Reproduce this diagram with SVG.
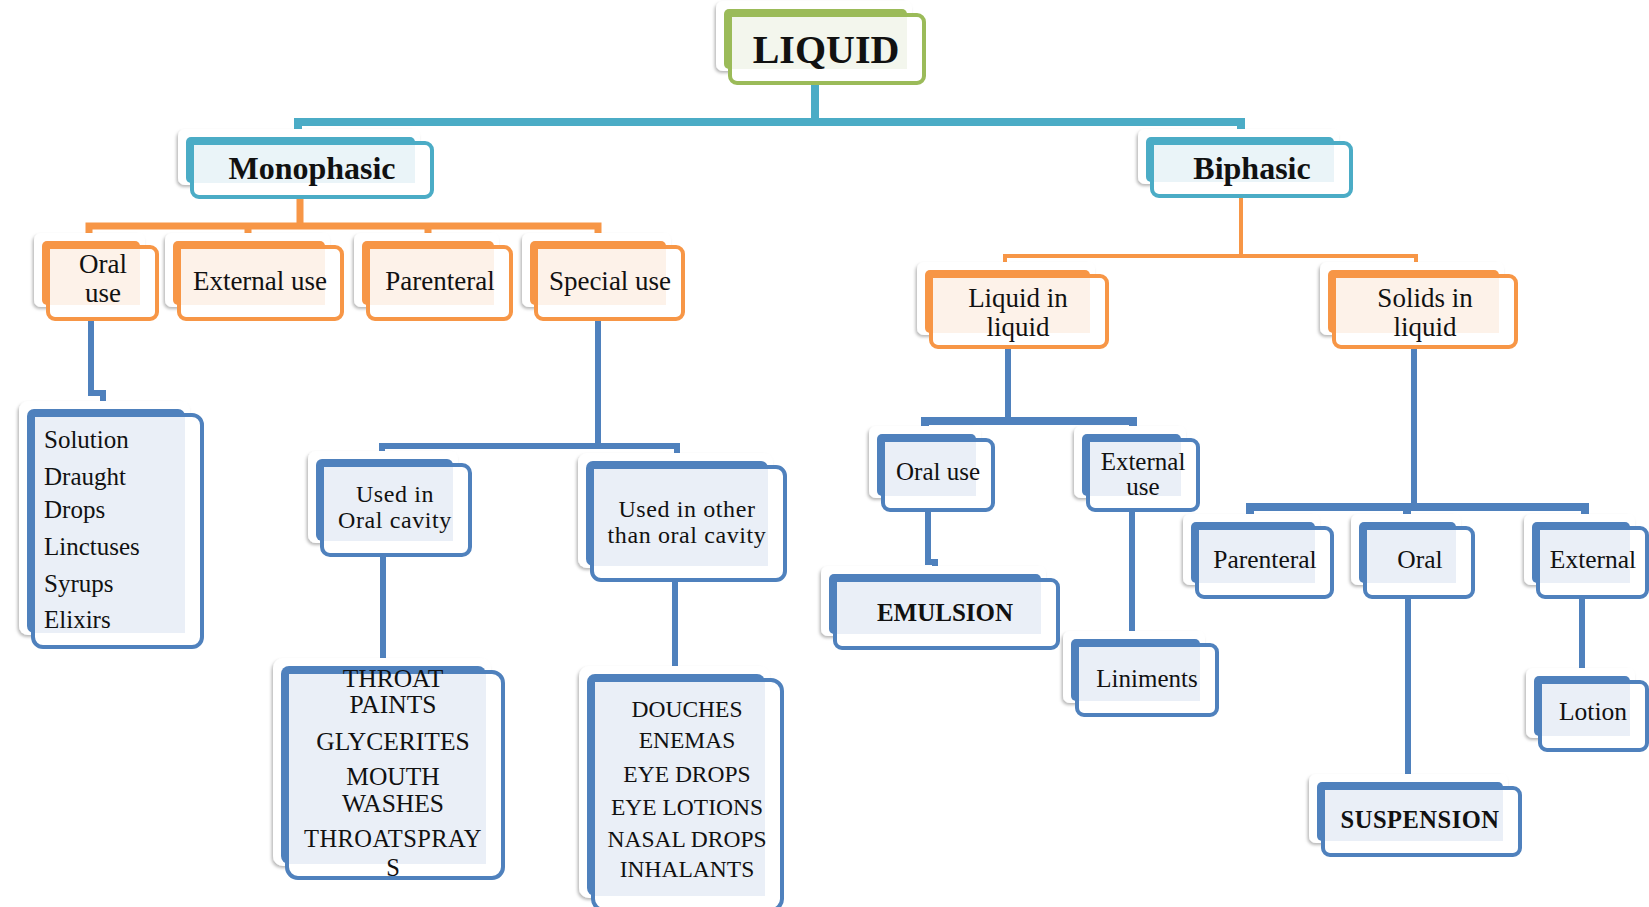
<svg xmlns="http://www.w3.org/2000/svg" width="1649" height="907" viewBox="0 0 1649 907">
<defs>
<filter id="sh" x="-15%" y="-15%" width="130%" height="135%">
<feDropShadow dx="-1.5" dy="2" stdDeviation="1.5" flood-color="#000" flood-opacity="0.28"/>
</filter>
</defs>
<style>
.sh{fill:#fff;filter:url(#sh)}
.bg{fill:#9bbb59}.fg{fill:#fff;stroke:#9bbb59;stroke-width:4}.lg{fill:#f3f6ed}
.bt{fill:#4bacc6}.ft{fill:#fff;stroke:#4bacc6;stroke-width:4}.lt{fill:#eaf4f8}
.bo{fill:#f79646}.fo{fill:#fff;stroke:#f79646;stroke-width:4}.lo{fill:#fdf2e9}
.bb{fill:#4f81bd}.fb{fill:#fff;stroke:#4f81bd;stroke-width:4}.lb{fill:#eaeff7}
.t{font-family:"Liberation Serif","Times New Roman",serif;fill:#111;text-anchor:middle}
.l{text-anchor:start}
.b{font-weight:bold}
.c{fill:none;stroke-linejoin:miter}
.ct{stroke:#4bacc6;stroke-width:8}
.co{stroke:#f79646;stroke-width:7}
.co2{stroke:#f79646;stroke-width:4}
.cb{stroke:#4f81bd;stroke-width:6}
.cb8{stroke:#4f81bd;stroke-width:8}
</style>
<rect width="1649" height="907" fill="#fff"/>

<g id="connectors">
<path class="c ct" d="M815 83 V122 M298 139 V122 H1241 V139"/>
<path class="c co" d="M300 197 V226 M89 236 V226 H598 V236 M248 226 V236 M428 226 V236"/>
<path class="c co2" d="M1241 196 V256 M1005 266 V256 H1416 V266"/>
<path class="c cb" d="M91 319 V393 H103 V404"/>
<path class="c cb" d="M598 319 V446 M382 457 V446 H677 V457"/>
<path class="c cb" d="M383 555 V660"/>
<path class="c cb" d="M675 580 V670"/>
<path class="c cb" d="M1008 347 V421"/>
<path class="c cb8" d="M925 430 V421 H1133 V430"/>
<path class="c cb" d="M928 510 V562 H935 V572"/>
<path class="c cb" d="M1132 510 V635"/>
<path class="c cb" d="M1414 347 V507"/>
<path class="c cb8" d="M1250 516 V507 H1585 V516 M1407 507 V516"/>
<path class="c cb" d="M1408 597 V777"/>
<path class="c cb" d="M1582 597 V670"/>
</g>

<g id="liquid">
<rect class="sh" x="716" y="1" width="196" height="70" rx="7"/>
<rect class="bg" x="724" y="9" width="183" height="60" rx="5"/>
<rect class="fg" x="730" y="15" width="194" height="68" rx="7"/>
<rect class="lg" x="732" y="17" width="175" height="52"/>
<text class="t b" x="826" y="63" font-size="40">LIQUID</text>
</g>

<g id="monophasic">
<rect class="sh" x="178" y="129" width="242" height="56" rx="7"/>
<rect class="bt" x="186" y="137" width="229" height="46" rx="5"/>
<rect class="ft" x="192" y="143" width="240" height="54" rx="7"/>
<rect class="lt" x="194" y="145" width="221" height="38"/>
<text class="t b" x="312" y="179" font-size="32">Monophasic</text>
</g>

<g id="biphasic">
<rect class="sh" x="1138" y="129" width="201" height="55" rx="7"/>
<rect class="bt" x="1146" y="137" width="188" height="45" rx="5"/>
<rect class="ft" x="1152" y="143" width="199" height="53" rx="7"/>
<rect class="lt" x="1154" y="145" width="180" height="37"/>
<text class="t b" x="1252" y="179" font-size="32">Biphasic</text>
</g>

<g id="mono-oral-use">
<rect class="sh" x="34" y="233" width="111" height="74" rx="7"/>
<rect class="bo" x="42" y="241" width="98" height="64" rx="5"/>
<rect class="fo" x="48" y="247" width="109" height="72" rx="7"/>
<rect class="lo" x="50" y="249" width="90" height="56"/>
<text class="t" x="103" y="273" font-size="27">Oral</text>
<text class="t" x="103" y="302" font-size="27">use</text>
</g>

<g id="mono-external-use">
<rect class="sh" x="165" y="233" width="165" height="74" rx="7"/>
<rect class="bo" x="173" y="241" width="152" height="64" rx="5"/>
<rect class="fo" x="179" y="247" width="163" height="72" rx="7"/>
<rect class="lo" x="181" y="249" width="144" height="56"/>
<text class="t" x="260" y="290" font-size="27">External use</text>
</g>

<g id="mono-parenteral">
<rect class="sh" x="354" y="233" width="145" height="74" rx="7"/>
<rect class="bo" x="362" y="241" width="132" height="64" rx="5"/>
<rect class="fo" x="368" y="247" width="143" height="72" rx="7"/>
<rect class="lo" x="370" y="249" width="124" height="56"/>
<text class="t" x="440" y="290" font-size="27">Parenteral</text>
</g>

<g id="mono-special-use">
<rect class="sh" x="522" y="233" width="149" height="74" rx="7"/>
<rect class="bo" x="530" y="241" width="136" height="64" rx="5"/>
<rect class="fo" x="536" y="247" width="147" height="72" rx="7"/>
<rect class="lo" x="538" y="249" width="128" height="56"/>
<text class="t" x="610" y="290" font-size="27">Special use</text>
</g>

<g id="oral-list">
<rect class="sh" x="19" y="401" width="171" height="234" rx="9"/>
<rect class="bb" x="27" y="409" width="158" height="224" rx="7"/>
<rect class="fb" x="33" y="415" width="169" height="232" rx="10"/>
<rect class="lb" x="35" y="417" width="150" height="216"/>
<text class="t l" x="44" y="448" font-size="25">Solution</text>
<text class="t l" x="44" y="485" font-size="25">Draught</text>
<text class="t l" x="44" y="518" font-size="25">Drops</text>
<text class="t l" x="44" y="555" font-size="25">Linctuses</text>
<text class="t l" x="44" y="592" font-size="25">Syrups</text>
<text class="t l" x="44" y="628" font-size="25">Elixirs</text>
</g>

<g id="used-in-oral-cavity">
<rect class="sh" x="308" y="451" width="150" height="92" rx="8"/>
<rect class="bb" x="316" y="459" width="137" height="82" rx="6"/>
<rect class="fb" x="322" y="465" width="148" height="90" rx="8"/>
<rect class="lb" x="324" y="467" width="129" height="74"/>
<text class="t" x="395" y="502" font-size="24" letter-spacing="0.6">Used in</text>
<text class="t" x="395" y="528" font-size="24" letter-spacing="0.6">Oral cavity</text>
</g>

<g id="used-in-other">
<rect class="sh" x="578" y="453" width="195" height="115" rx="9"/>
<rect class="bb" x="586" y="461" width="182" height="105" rx="7"/>
<rect class="fb" x="592" y="467" width="193" height="113" rx="9"/>
<rect class="lb" x="594" y="469" width="174" height="97"/>
<text class="t" x="687" y="517" font-size="24" letter-spacing="0.6">Used in other</text>
<text class="t" x="687" y="543" font-size="24" letter-spacing="0.6">than oral cavity</text>
</g>

<g id="throat-list">
<rect class="sh" x="273" y="658" width="218" height="208" rx="10"/>
<rect class="bb" x="281" y="666" width="205" height="198" rx="8"/>
<rect class="fb" x="287" y="672" width="216" height="206" rx="11"/>
<rect class="lb" x="289" y="674" width="197" height="190"/>
<text class="t" x="393" y="687" font-size="25.5">THROAT</text>
<text class="t" x="393" y="713" font-size="25.5">PAINTS</text>
<text class="t" x="393" y="750" font-size="25.5">GLYCERITES</text>
<text class="t" x="393" y="785" font-size="25.5">MOUTH</text>
<text class="t" x="393" y="812" font-size="25.5">WASHES</text>
<text class="t" x="393" y="847" font-size="24.5" letter-spacing="0.4">THROATSPRAY</text>
<text class="t" x="393" y="876" font-size="24.5">S</text>
</g>

<g id="douches-list">
<rect class="sh" x="579" y="666" width="191" height="232" rx="10"/>
<rect class="bb" x="587" y="674" width="178" height="222" rx="8"/>
<rect class="fb" x="593" y="680" width="189" height="230" rx="11"/>
<rect class="lb" x="595" y="682" width="170" height="214"/>
<text class="t" x="687" y="717" font-size="23.5">DOUCHES</text>
<text class="t" x="687" y="748" font-size="23.5">ENEMAS</text>
<text class="t" x="687" y="782" font-size="23.5">EYE DROPS</text>
<text class="t" x="687" y="815" font-size="23.5">EYE LOTIONS</text>
<text class="t" x="687" y="847" font-size="23.5">NASAL DROPS</text>
<text class="t" x="687" y="877" font-size="23.5">INHALANTS</text>
</g>

<g id="liquid-in-liquid">
<rect class="sh" x="917" y="262" width="178" height="73" rx="7"/>
<rect class="bo" x="925" y="270" width="165" height="63" rx="5"/>
<rect class="fo" x="931" y="276" width="176" height="71" rx="7"/>
<rect class="lo" x="933" y="278" width="157" height="55"/>
<text class="t" x="1018" y="307" font-size="27">Liquid in</text>
<text class="t" x="1018" y="336" font-size="27">liquid</text>
</g>

<g id="solids-in-liquid">
<rect class="sh" x="1320" y="262" width="184" height="73" rx="7"/>
<rect class="bo" x="1328" y="270" width="171" height="63" rx="5"/>
<rect class="fo" x="1334" y="276" width="182" height="71" rx="7"/>
<rect class="lo" x="1336" y="278" width="163" height="55"/>
<text class="t" x="1425" y="307" font-size="27">Solids in</text>
<text class="t" x="1425" y="336" font-size="27">liquid</text>
</g>

<g id="bi-oral-use">
<rect class="sh" x="869" y="426" width="112" height="72" rx="7"/>
<rect class="bb" x="877" y="434" width="99" height="62" rx="5"/>
<rect class="fb" x="883" y="440" width="110" height="70" rx="7"/>
<rect class="lb" x="885" y="442" width="91" height="54"/>
<text class="t" x="938" y="480" font-size="25">Oral use</text>
</g>

<g id="bi-external-use">
<rect class="sh" x="1074" y="426" width="112" height="72" rx="7"/>
<rect class="bb" x="1082" y="434" width="99" height="62" rx="5"/>
<rect class="fb" x="1088" y="440" width="110" height="70" rx="7"/>
<rect class="lb" x="1090" y="442" width="91" height="54"/>
<text class="t" x="1143" y="470" font-size="25">External</text>
<text class="t" x="1143" y="495" font-size="25">use</text>
</g>

<g id="emulsion">
<rect class="sh" x="821" y="566" width="225" height="70" rx="7"/>
<rect class="bb" x="829" y="574" width="212" height="60" rx="5"/>
<rect class="fb" x="835" y="580" width="223" height="68" rx="7"/>
<rect class="lb" x="837" y="582" width="204" height="52"/>
<text class="t b" x="945" y="621" font-size="25">EMULSION</text>
</g>

<g id="liniments">
<rect class="sh" x="1063" y="631" width="142" height="72" rx="7"/>
<rect class="bb" x="1071" y="639" width="129" height="62" rx="5"/>
<rect class="fb" x="1077" y="645" width="140" height="70" rx="7"/>
<rect class="lb" x="1079" y="647" width="121" height="54"/>
<text class="t" x="1147" y="687" font-size="25">Liniments</text>
</g>

<g id="bi-parenteral">
<rect class="sh" x="1183" y="514" width="137" height="71" rx="7"/>
<rect class="bb" x="1191" y="522" width="124" height="61" rx="5"/>
<rect class="fb" x="1197" y="528" width="135" height="69" rx="7"/>
<rect class="lb" x="1199" y="530" width="116" height="53"/>
<text class="t" x="1265" y="568" font-size="25.5">Parenteral</text>
</g>

<g id="bi-oral">
<rect class="sh" x="1351" y="514" width="110" height="71" rx="7"/>
<rect class="bb" x="1359" y="522" width="97" height="61" rx="5"/>
<rect class="fb" x="1365" y="528" width="108" height="69" rx="7"/>
<rect class="lb" x="1367" y="530" width="89" height="53"/>
<text class="t" x="1420" y="568" font-size="25.5">Oral</text>
</g>

<g id="bi-external">
<rect class="sh" x="1524" y="514" width="111" height="71" rx="7"/>
<rect class="bb" x="1532" y="522" width="98" height="61" rx="5"/>
<rect class="fb" x="1538" y="528" width="109" height="69" rx="7"/>
<rect class="lb" x="1540" y="530" width="90" height="53"/>
<text class="t" x="1593" y="568" font-size="25.5">External</text>
</g>

<g id="suspension">
<rect class="sh" x="1309" y="774" width="199" height="69" rx="7"/>
<rect class="bb" x="1317" y="782" width="186" height="59" rx="5"/>
<rect class="fb" x="1323" y="788" width="197" height="67" rx="7"/>
<rect class="lb" x="1325" y="790" width="178" height="51"/>
<text class="t b" x="1420" y="828" font-size="24.5" letter-spacing="0.5">SUSPENSION</text>
</g>

<g id="lotion">
<rect class="sh" x="1526" y="668" width="109" height="70" rx="7"/>
<rect class="bb" x="1534" y="676" width="96" height="60" rx="5"/>
<rect class="fb" x="1540" y="682" width="107" height="68" rx="7"/>
<rect class="lb" x="1542" y="684" width="88" height="52"/>
<text class="t" x="1593" y="720" font-size="25.5">Lotion</text>
</g>
</svg>
